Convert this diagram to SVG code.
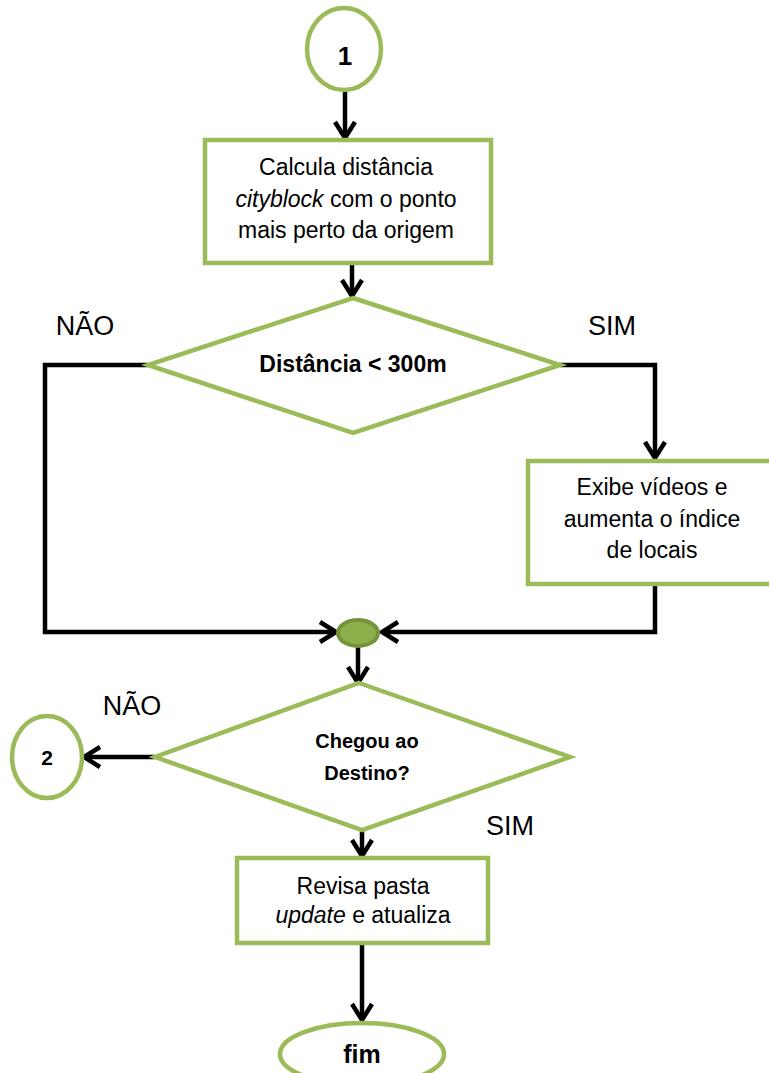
<svg xmlns="http://www.w3.org/2000/svg" width="769" height="1073" viewBox="0 0 769 1073">
<style>
.node{fill:#fff;stroke:#9bbb59;stroke-width:4.5}
.conn{fill:none;stroke:#000;stroke-width:4.5}
text{font-family:"Liberation Sans",Arial,sans-serif;fill:#000;text-anchor:middle}
.t{font-size:23px}
.lab{font-size:27px}
.b{font-weight:bold}
</style>
<defs>
<marker id="arr" viewBox="0 0 24 24" refX="21" refY="12" markerWidth="24" markerHeight="24" markerUnits="userSpaceOnUse" orient="auto">
<path d="M5,2 L21,12 L5,22" fill="none" stroke="#000" stroke-width="4.5" stroke-linejoin="miter"/>
</marker>
</defs>
<g id="connectors">
<path class="conn" d="M345,90 V138" marker-end="url(#arr)"/>
<path class="conn" d="M352,263 V296" marker-end="url(#arr)"/>
<path class="conn" d="M148,365 H45 V632 H336" marker-end="url(#arr)"/>
<path class="conn" d="M560,365 H655 V458" marker-end="url(#arr)"/>
<path class="conn" d="M655,585 V632 H382" marker-end="url(#arr)"/>
<path class="conn" d="M358,646 V683" marker-end="url(#arr)"/>
<path class="conn" d="M155,757 H84" marker-end="url(#arr)"/>
<path class="conn" d="M362,823 V856" marker-end="url(#arr)"/>
<path class="conn" d="M362,943 V1020" marker-end="url(#arr)"/>
</g>
<g id="start1">
<ellipse class="node" cx="344" cy="49" rx="37" ry="41"/>
<text class="b" x="345" y="65" font-size="26">1</text>
</g>
<g id="calc">
<rect class="node" x="205" y="140" width="286" height="123"/>
<text class="t" x="346" y="175">Calcula distância</text>
<text class="t" x="346" y="207"><tspan font-style="italic">cityblock</tspan> com o ponto</text>
<text class="t" x="346" y="238">mais perto da origem</text>
</g>
<g id="dec1">
<polygon class="node" points="353,298 560,365 353,433 148,365"/>
<text class="b" x="353" y="372" font-size="23">Distância &lt; 300m</text>
</g>
<text class="lab" x="85" y="335">NÃO</text>
<text class="lab" x="612" y="335">SIM</text>
<g id="exibe">
<rect class="node" x="528" y="461" width="260" height="123"/>
<text class="t" x="652" y="495">Exibe vídeos e</text>
<text class="t" x="652" y="527">aumenta o índice</text>
<text class="t" x="652" y="558">de locais</text>
</g>
<g id="junction">
<ellipse cx="358" cy="633" rx="20" ry="13" fill="#8eb04c" stroke="#76933c" stroke-width="4"/>
</g>
<g id="dec2">
<polygon class="node" points="359,683 570,757 362,830 155,757"/>
<text class="b" x="367" y="748" font-size="20">Chegou ao</text>
<text class="b" x="367" y="780" font-size="20">Destino?</text>
</g>
<text class="lab" x="132" y="715">NÃO</text>
<text class="lab" x="510" y="835">SIM</text>
<g id="conn2">
<ellipse class="node" cx="47" cy="757" rx="35" ry="41"/>
<text class="b" x="47" y="765" font-size="21">2</text>
</g>
<g id="revisa">
<rect class="node" x="237" y="858" width="251" height="85"/>
<text class="t" x="363" y="894">Revisa pasta</text>
<text class="t" x="363" y="923"><tspan font-style="italic">update</tspan> e atualiza</text>
</g>
<g id="fim">
<ellipse class="node" cx="362" cy="1054" rx="82" ry="31"/>
<text class="b" x="362" y="1063" font-size="25">fim</text>
</g>
</svg>
